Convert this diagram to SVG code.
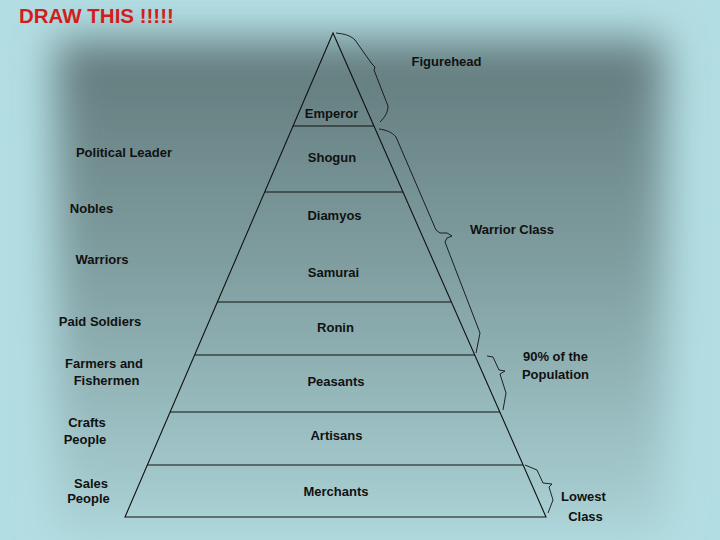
<svg xmlns="http://www.w3.org/2000/svg" width="720" height="540" viewBox="0 0 720 540">
  <defs>
    <linearGradient id="inner" x1="0" y1="0" x2="0" y2="1">
      <stop offset="0" stop-color="#627a7c"/>
      <stop offset="0.45" stop-color="#7f9d9f"/>
      <stop offset="1" stop-color="#abd2d6"/>
    </linearGradient>
    <filter id="soft" x="-20%" y="-20%" width="140%" height="140%">
      <feGaussianBlur stdDeviation="20"/>
    </filter>
    <style>
      .lbl { font-family: "Liberation Sans", Arial, sans-serif; font-weight: bold; font-size: 13px; fill: #111; text-anchor: middle; }
      .title { font-family: "Liberation Sans", Arial, sans-serif; font-weight: bold; font-size: 20.5px; fill: #d41c1c; }
      .edge { fill: none; stroke: #111; stroke-width: 1.1; }
      .brace { fill: none; stroke: #111; stroke-width: 0.9; stroke-linejoin: round; }
    </style>
  </defs>

  <g id="background">
    <rect x="0" y="0" width="720" height="540" fill="#b2dde2"/>
    <rect x="56" y="40" width="608" height="492" fill="url(#inner)" filter="url(#soft)"/>
  </g>

  <text class="title" x="19" y="23">DRAW THIS !!!!!</text>

  <g id="pyramid">
    <path class="edge" d="M333,33 L125,517 L546,517 Z"/>
  </g>

  <g id="tier-emperor">
    <line class="edge" x1="293" y1="126" x2="374" y2="126"/>
    <text class="lbl" x="331.5" y="118">Emperor</text>
  </g>
  <g id="tier-shogun">
    <line class="edge" x1="265" y1="192" x2="403" y2="192"/>
    <text class="lbl" x="332" y="162">Shogun</text>
  </g>
  <g id="tier-samurai">
    <line class="edge" x1="217" y1="302" x2="451" y2="302"/>
    <text class="lbl" x="334.5" y="220">Diamyos</text>
    <text class="lbl" x="333.5" y="277">Samurai</text>
  </g>
  <g id="tier-ronin">
    <line class="edge" x1="195" y1="355" x2="475" y2="355"/>
    <text class="lbl" x="335.5" y="332">Ronin</text>
  </g>
  <g id="tier-peasants">
    <line class="edge" x1="170" y1="412" x2="500" y2="412"/>
    <text class="lbl" x="336" y="386">Peasants</text>
  </g>
  <g id="tier-artisans">
    <line class="edge" x1="147" y1="465" x2="523" y2="465"/>
    <text class="lbl" x="336.5" y="440">Artisans</text>
  </g>
  <g id="tier-merchants">
    <text class="lbl" x="336" y="496">Merchants</text>
  </g>

  <g id="left-labels">
    <text class="lbl" x="124" y="157">Political Leader</text>
    <text class="lbl" x="91.5" y="213">Nobles</text>
    <text class="lbl" x="102" y="264">Warriors</text>
    <text class="lbl" x="100" y="326">Paid Soldiers</text>
    <text class="lbl" x="104" y="368">Farmers and</text>
    <text class="lbl" x="106.5" y="385">Fishermen</text>
    <text class="lbl" x="87" y="427">Crafts</text>
    <text class="lbl" x="85" y="444">People</text>
    <text class="lbl" x="91" y="488">Sales</text>
    <text class="lbl" x="88.5" y="503">People</text>
  </g>

  <g id="right-labels">
    <text class="lbl" x="446.5" y="66">Figurehead</text>
    <text class="lbl" x="512" y="234">Warrior Class</text>
    <text class="lbl" x="555.5" y="361">90% of the</text>
    <text class="lbl" x="555.5" y="379">Population</text>
    <text class="lbl" x="583.5" y="501">Lowest</text>
    <text class="lbl" x="585.5" y="521">Class</text>
  </g>

  <g id="connectors">
    <path class="brace" d="M336,33 C344,34 350,35 355,40 L372,64 L375,67 L374,70 L388,106 C388,112 385,117 380,122"/>
    <path class="brace" d="M379,129 C386,130 392,132 396,137 L436,230 L440,233 L447,233 L452,236 L447,238 L445,242 L480,333 L478,343 L476,353"/>
    <path class="brace" d="M487,356 L493,357 L499,370 L505,371 L500,374 L506,393 L503,410"/>
    <path class="brace" d="M525,465 L537,470 L543,483 L552,484 L549,487 L553,500 L548,513"/>
  </g>
</svg>
